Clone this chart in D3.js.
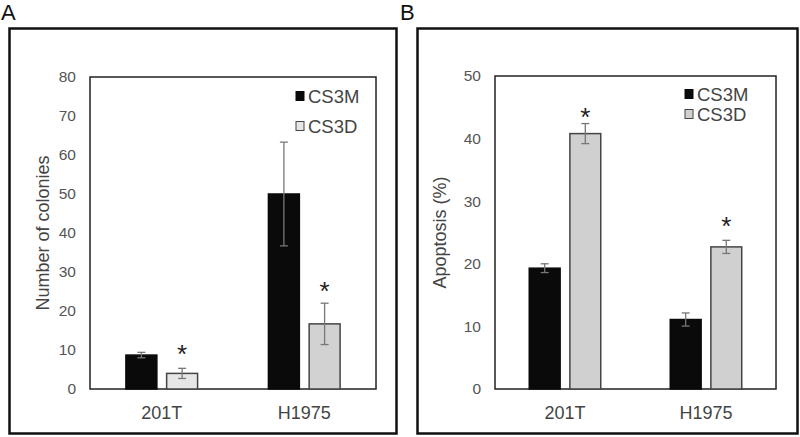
<!DOCTYPE html>
<html><head><meta charset="utf-8">
<script src="https://cdn.jsdelivr.net/npm/d3@7"></script>
<style>
html,body{margin:0;padding:0;background:#fff;}
text{font-family:Arial,"Liberation Sans",sans-serif;}
</style></head>
<body><svg id="chart" width="800" height="437"></svg>
<script>
const categories = ["201T", "H1975"];
const seriesNames = ["CS3M", "CS3D"];
// Panel A: Number of colonies
const colonyCS3M = [8.7, 50.0];
const colonyCS3MErr = [0.7, 13.3];
const colonyCS3D = [4.0, 16.7];
const colonyCS3DErr = [1.3, 5.3];
const colonyTicks = [0, 10, 20, 30, 40, 50, 60, 70, 80];
// Panel B: Apoptosis (%)
const apopCS3M = [19.3, 11.1];
const apopCS3MErr = [0.7, 1.05];
const apopCS3D = [40.8, 22.7];
const apopCS3DErr = [1.6, 1.05];
const apopTicks = [0, 10, 20, 30, 40, 50];
const significant = [true, true]; // asterisk over CS3D

const svg = d3.select("#chart");

function panel(cfg) {
  const g = svg.append("g");
  g.append("rect").attr("x", cfg.frame[0]).attr("y", cfg.frame[1])
    .attr("width", cfg.frame[2]).attr("height", cfg.frame[3])
    .attr("fill", "none").attr("stroke", "#111").attr("stroke-width", 2.5);
  g.append("text").attr("x", cfg.labelX).attr("y", 20).text(cfg.label)
    .attr("font-size", 22).attr("fill", "#111");

  const x0 = d3.scaleBand().domain(categories).range([cfg.left, cfg.right])
    .paddingInner(cfg.padIn).paddingOuter(cfg.padOut);
  const x1 = d3.scaleBand().domain(seriesNames).range([0, x0.bandwidth()]).paddingInner(0.24);
  const y = d3.scaleLinear().domain([0, cfg.ymax]).range([cfg.bottom, cfg.top]);

  g.append("rect").attr("x", cfg.left).attr("y", cfg.top)
    .attr("width", cfg.right - cfg.left).attr("height", cfg.bottom - cfg.top)
    .attr("fill", "none").attr("stroke", "#222").attr("stroke-width", 1.5);

  const yAxis = d3.axisLeft(y).tickValues(cfg.ticks).tickSize(0).tickPadding(14);
  const ya = g.append("g").attr("transform", `translate(${cfg.left},0)`).call(yAxis);
  ya.select(".domain").remove();
  ya.selectAll("text").attr("font-size", 15.5).attr("fill", "#555").attr("font-family", "Arial, Liberation Sans, sans-serif");

  const xAxis = d3.axisBottom(x0).tickSize(0).tickPadding(17);
  const xa = g.append("g").attr("transform", `translate(0,${cfg.bottom})`).call(xAxis);
  xa.select(".domain").remove();
  xa.selectAll("text").attr("font-size", 18).attr("fill", "#444").attr("font-family", "Arial, Liberation Sans, sans-serif");

  g.append("text").attr("transform", `translate(${cfg.titleX},${(cfg.top + cfg.bottom) / 2}) rotate(-90)`)
    .attr("text-anchor", "middle").attr("dy", "0.35em").attr("font-size", 18).attr("fill", "#444").text(cfg.title);

  const data = [];
  categories.forEach((c, i) => {
    data.push({cat: c, s: "CS3M", v: cfg.m[i], e: cfg.me[i], fill: "#0a0a0a", idx: i});
    data.push({cat: c, s: "CS3D", v: cfg.d[i], e: cfg.de[i], fill: cfg.dFill[i], idx: i});
  });
  const cx = d => x0(d.cat) + x1(d.s) + x1.bandwidth() / 2;

  g.selectAll("rect.bar").data(data).join("rect").attr("class", "bar")
    .attr("x", d => x0(d.cat) + x1(d.s))
    .attr("y", d => y(d.v))
    .attr("width", x1.bandwidth())
    .attr("height", d => y(0) - y(d.v))
    .attr("fill", d => d.fill)
    .attr("stroke", d => d.s === "CS3M" ? "#0a0a0a" : "#444")
    .attr("stroke-width", 1.5);

  const eb = g.selectAll("g.err").data(data).join("g").attr("class", "err")
    .attr("stroke", "#777").attr("stroke-width", 1.3);
  eb.append("line").attr("x1", cx).attr("x2", cx)
    .attr("y1", d => y(d.v + d.e)).attr("y2", d => y(d.v - d.e));
  [1, -1].forEach(sg => {
    eb.append("line")
      .attr("x1", d => cx(d) - 4).attr("x2", d => cx(d) + 4)
      .attr("y1", d => y(d.v + sg * d.e)).attr("y2", d => y(d.v + sg * d.e));
  });

  const fs = 26;
  g.selectAll("text.star").data(data.filter(d => d.s === "CS3D" && significant[d.idx])).join("text")
    .attr("class", "star")
    .attr("x", cx)
    .attr("y", d => y(d.v + d.e) - cfg.starGap[d.idx] + 0.575 * fs)
    .attr("text-anchor", "middle").attr("font-size", fs).attr("fill", "#222").text("*");

  const lg = g.append("g").selectAll("g").data(seriesNames).join("g")
    .attr("transform", (d, i) => `translate(${cfg.legX},${cfg.legY + i * cfg.legGap})`);
  lg.append("rect").attr("x", 0).attr("y", -4.5).attr("width", 8).attr("height", 9)
    .attr("fill", (d, i) => i === 0 ? "#0a0a0a" : cfg.legFill)
    .attr("stroke", (d, i) => i === 0 ? "#0a0a0a" : "#444").attr("stroke-width", 1);
  lg.append("text").attr("x", 12).attr("dy", "0.36em").attr("font-size", 18.5).attr("fill", "#444").text(d => d);
}

panel({
  frame: [9.5, 28.5, 387, 405], label: "A", labelX: 1,
  left: 90, right: 376, top: 77, bottom: 389, ymax: 80, ticks: colonyTicks,
  padIn: 0.497, padOut: 0.252,
  title: "Number of colonies", titleX: 43,
  m: colonyCS3M, me: colonyCS3MErr, d: colonyCS3D, de: colonyCS3DErr,
  dFill: ["#e6e6e6", "#d2d2d2"], legFill: "#e6e6e6",
  legX: 296, legY: 96, legGap: 30, starGap: [20, 18]
});
panel({
  frame: [417.5, 28.5, 380, 405], label: "B", labelX: 400,
  left: 495, right: 776, top: 76, bottom: 389, ymax: 50, ticks: apopTicks,
  padIn: 0.493, padOut: 0.243,
  title: "Apoptosis (%)", titleX: 440,
  m: apopCS3M, me: apopCS3MErr, d: apopCS3D, de: apopCS3DErr,
  dFill: ["#d0d0d0", "#d0d0d0"], legFill: "#d0d0d0",
  legX: 685, legY: 94, legGap: 20, starGap: [13, 20]
});
</script></body></html>
